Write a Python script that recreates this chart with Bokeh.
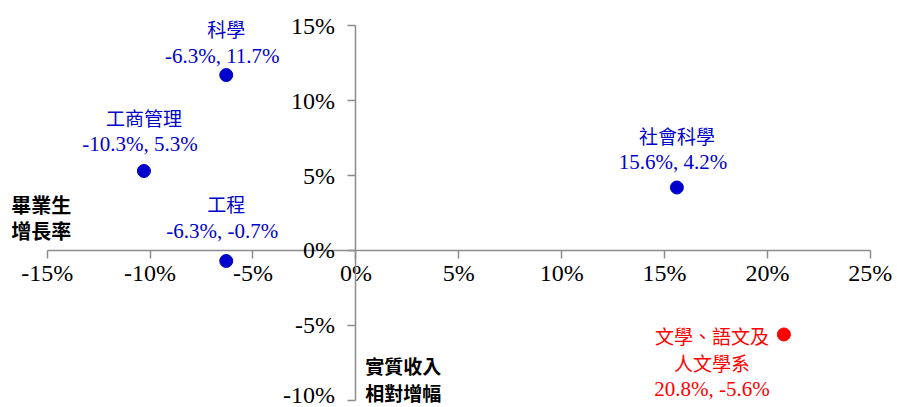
from bokeh.plotting import figure
from bokeh.models import LinearAxis, FixedTicker, Label, ColumnDataSource
from bokeh.embed import file_html
from bokeh.resources import INLINE

# ---- data ----
names = ["科學", "工商管理", "工程", "社會科學", "文學、語文及人文學系"]
x_vals = [-6.3, -10.3, -6.3, 15.6, 20.8]   # 畢業生增長率 (%)
y_vals = [11.7, 5.3, -0.7, 4.2, -5.6]      # 實質收入相對增幅 (%)
colors = ["#0000CC", "#0000CC", "#0000CC", "#0000CC", "#FF0000"]
x_ticks = [-15, -10, -5, 0, 5, 10, 15, 20, 25]
x_tick_labels = ["-15%", "-10%", "-5%", "0%", "5%", "10%", "15%", "20%", "25%"]
y_ticks = [-10, -5, 0, 5, 10, 15]
y_tick_labels = ["-10%", "-5%", "0%", "5%", "10%", "15%"]
x_axis_title = ["畢業生", "增長率"]
y_axis_title = ["實質收入", "相對增幅"]

CJK = "Noto Sans CJK TC"
SERIF = "Liberation Serif"

p = figure(width=897, height=407, output_backend="svg", toolbar_location=None,
           x_range=(-17.27, 26.32), y_range=(-10.47, 16.67),
           x_axis_location=None, y_axis_location=None, min_border=0)
p.outline_line_color = None
p.xgrid.visible = False
p.ygrid.visible = False
p.background_fill_color = "white"
p.border_fill_color = "white"

axis_color = "#8c8c8c"
xa = LinearAxis(fixed_location=0, ticker=FixedTicker(ticks=x_ticks),
                bounds=(x_ticks[0], x_ticks[-1]))
xa.major_label_overrides = {t: l for t, l in zip(x_ticks, x_tick_labels)}
ya = LinearAxis(fixed_location=0, ticker=FixedTicker(ticks=y_ticks),
                bounds=(y_ticks[0], y_ticks[-1]))
ya.major_label_overrides = {t: l for t, l in zip(y_ticks, y_tick_labels)}
for ax in (xa, ya):
    ax.axis_line_color = axis_color
    ax.axis_line_width = 1.5
    ax.major_tick_line_color = axis_color
    ax.major_tick_line_width = 1.5
    ax.major_tick_in = 0
    ax.major_tick_out = 8
    ax.minor_tick_line_color = None
    ax.major_label_text_font = SERIF
    ax.major_label_text_font_size = "24px"
    ax.major_label_text_color = "black"
xa.major_label_standoff = 2
ya.major_label_standoff = 13
p.add_layout(xa, "below")
p.add_layout(ya, "left")

src = ColumnDataSource(dict(x=x_vals, y=y_vals, c=colors))
p.scatter("x", "y", source=src, size=13, fill_color="c", line_color="c")

# data labels (name above, values below name)
name_offsets = [47, 54, 57, 52]
val_offsets = [19, 27, 30, 26]
for i in range(4):
    p.add_layout(Label(x=x_vals[i], y=y_vals[i], x_offset=0, y_offset=name_offsets[i],
                       text=names[i], text_font=CJK, text_font_size="19px",
                       text_color=colors[i], text_align="center", text_baseline="middle"))
    p.add_layout(Label(x=x_vals[i], y=y_vals[i], x_offset=-4, y_offset=val_offsets[i],
                       text=f"{x_vals[i]:.1f}%, {y_vals[i]:.1f}%", text_font=SERIF,
                       text_font_size="21px", text_color=colors[i],
                       text_align="center", text_baseline="middle"))

# red label block to the left of the point
red_lines = ["文學、語文及", "人文學系", f"{x_vals[4]:.1f}%, {y_vals[4]:.1f}%"]
red_fonts = [CJK, CJK, SERIF]
red_sizes = ["19px", "19px", "21px"]
for j, (t, f, s) in enumerate(zip(red_lines, red_fonts, red_sizes)):
    p.add_layout(Label(x=x_vals[4], y=y_vals[4], x_offset=-72, y_offset=-27 * j - 1,
                       text=t, text_font=f, text_font_size=s, text_color=colors[4],
                       text_align="center", text_baseline="middle"))

# axis titles
for j, t in enumerate(x_axis_title):
    p.add_layout(Label(x=-16.75, y=3.1 - 1.8 * j,
                       text=t, text_font=CJK, text_font_size="20px", text_font_style="bold",
                       text_color="black", text_align="left", text_baseline="middle"))
for j, t in enumerate(y_axis_title):
    p.add_layout(Label(x=0.45, y=-7.65 - 1.8 * j,
                       text=t, text_font=CJK, text_font_size="19px", text_font_style="bold",
                       text_color="black", text_align="left", text_baseline="middle"))

open("out.html", "w").write(file_html(p, INLINE))
